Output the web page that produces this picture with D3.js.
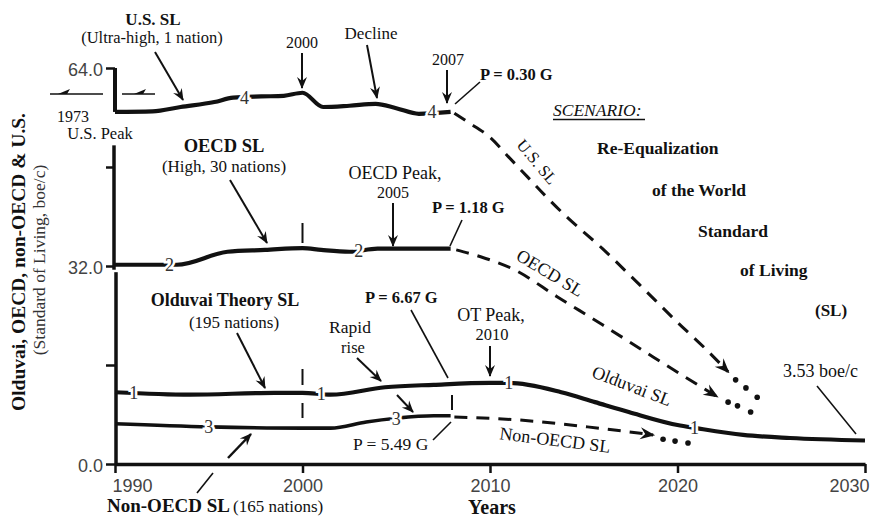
<!DOCTYPE html>
<html><head><meta charset="utf-8">
<script src="https://cdn.jsdelivr.net/npm/d3@7/dist/d3.min.js"></script>
<style>
html,body{margin:0;padding:0;background:#fff;}
svg{display:block;font-family:"Liberation Serif","Times New Roman",serif;}
</style></head><body>
<svg id="c" width="870" height="518"></svg>
<script>
// ---------- data (boe/c) ----------
const xTicks = [1990, 2000, 2010, 2020, 2030];
const yTicks = [0, 16, 32, 48, 64];
const yTickLabels = ["0.0", "", "32.0", "", "64.0"];

// U.S. SL (series 4)
const usDropYears = [1990, 1990];
const usDropValues = [64, 56.9];
const usYears = [1990, 1992, 1993.5, 1995.3, 1996.3, 1997.8, 1999, 2000, 2001.1, 2002.5, 2003.9, 2005, 2006.2, 2007.9];
const usValues = [56.9, 57.0, 57.7, 58.5, 59.2, 59.4, 59.5, 60.0, 57.7, 57.9, 58.2, 57.5, 56.6, 56.9];
const usDashYears = [2008.1, 2008.8, 2010, 2011, 2012, 2013, 2014, 2016, 2018, 2020, 2021.5, 2022.7];
const usDashValues = [56.7, 55.3, 52.8, 49.6, 46.4, 43.2, 40.2, 34.8, 28.9, 22.9, 18.6, 14.9];
const usDotYears = [2023.1, 2023.65, 2024.25];
const usDotValues = [13.6, 12.3, 10.8];

// OECD SL (series 2)
const oecdYears = [1990, 1993.3, 1996, 1998, 2000, 2001, 2002.5, 2004, 2007.9];
const oecdValues = [32.2, 32.2, 34.3, 34.6, 34.9, 34.6, 34.3, 34.8, 34.8];
const oecdDashYears = [2008.2, 2009.5, 2011.3, 2013.6, 2016, 2018.7, 2022.1];
const oecdDashValues = [34.6, 33.5, 31.4, 27.0, 22.5, 17.3, 10.9];
const oecdDotYears = [2022.7, 2023.2, 2023.9];
const oecdDotValues = [10.0, 9.4, 8.4];

// Olduvai Theory SL (series 1)
const olduvaiYears = [1990, 1994, 1998.5, 2000, 2001.5, 2004.4, 2007, 2010, 2011, 2013.8, 2015.6, 2017.4, 2020, 2021, 2023.5, 2026, 2030];
const olduvaiValues = [11.6, 11.2, 11.5, 11.5, 11.2, 12.4, 12.8, 13.1, 13.1, 11.6, 10.0, 8.4, 6.3, 5.8, 4.7, 4.2, 3.8];

// Non-OECD SL (series 3)
const nonOecdYears = [1990, 1995, 2000, 2001.5, 2003.4, 2005, 2007, 2007.9];
const nonOecdValues = [6.5, 6.0, 5.8, 5.8, 6.8, 7.4, 7.8, 7.8];
const nonOecdDashYears = [2008.1, 2011.6, 2015.2, 2018.7];
const nonOecdDashValues = [7.6, 7.1, 6.0, 4.7];
const nonOecdDotYears = [2019.23, 2019.87, 2020.56];
const nonOecdDotValues = [4.0, 3.7, 3.4];

// series number labels on the lines
const lineLabelText = ["4", "4", "2", "2", "1", "1", "1", "1", "3", "3"];
const lineLabelYears = [1996.9, 2006.9, 1992.9, 2003.0, 1991.0, 2001.0, 2011.0, 2020.9, 1995.0, 2005.0];
const lineLabelValues = [59.2, 56.9, 32.2, 34.5, 11.6, 11.4, 13.1, 5.9, 6.0, 7.4];

// ---------- scales ----------
const svg = d3.select("#c");
const x = d3.scaleLinear().domain([1990, 2030]).range([115, 865]);
const y = d3.scaleLinear().domain([0, 64]).range([464, 68]);
const ink = "#111";

const defs = svg.append("defs");
defs.append("marker").attr("id", "ah").attr("viewBox", "-14 -7 16 14")
  .attr("refX", 0).attr("refY", 0).attr("markerWidth", 16).attr("markerHeight", 14)
  .attr("markerUnits", "userSpaceOnUse").attr("orient", "auto")
  .append("path").attr("d", "M1,0 L-11,-5 L-7,0 L-11,5 Z").attr("fill", ink);
defs.append("marker").attr("id", "ahBig").attr("viewBox", "-16 -8 18 16")
  .attr("refX", 0).attr("refY", 0).attr("markerWidth", 18).attr("markerHeight", 16)
  .attr("markerUnits", "userSpaceOnUse").attr("orient", "auto")
  .append("path").attr("d", "M2,0 L-13,-6 L-8,0 L-13,6 Z").attr("fill", ink);

const zip = (a, b) => a.map((d, i) => [d, b[i]]);
const lineSmooth = d3.line().x(d => x(d[0])).y(d => y(d[1])).curve(d3.curveMonotoneX);
const lineStraight = d3.line().x(d => x(d[0])).y(d => y(d[1]));

// ---------- axes ----------
const xg = svg.append("g").attr("transform", `translate(0,${y(0)})`)
  .call(d3.axisBottom(x).tickValues(xTicks).tickSize(9).tickSizeOuter(0).tickPadding(6).tickFormat(d3.format("d")));
xg.select(".domain").attr("stroke", ink).attr("stroke-width", 3.5);
xg.selectAll(".tick line").attr("stroke", ink).attr("stroke-width", 2.5);
xg.selectAll(".tick text").attr("font-family", "Liberation Sans, Arial, sans-serif")
  .attr("font-size", 18).attr("fill", "#444")
  .attr("text-anchor", (d, i) => i === 0 ? "start" : (i === xTicks.length - 1 ? "end" : "middle"))
  .attr("dx", (d, i) => i === 0 ? -3 : (i === xTicks.length - 1 ? 4 : 0));

const yg = svg.append("g").attr("transform", `translate(${x(1990)},0)`)
  .call(d3.axisLeft(y).tickValues(yTicks).tickSize(9).tickPadding(3).tickFormat((d, i) => yTickLabels[i]));
yg.select(".domain").remove();
yg.selectAll(".tick line").attr("stroke", ink).attr("stroke-width", 2.5);
yg.selectAll(".tick text").attr("font-family", "Liberation Sans, Arial, sans-serif")
  .attr("font-size", 18).attr("fill", "#444").attr("dy", "0.42em");

// broken vertical axis
const axisSegments = [[0, 31.0, 1], [31.4, 51.5, -1]];
svg.selectAll(".vseg").data(axisSegments).enter().append("line")
  .attr("x1", d => x(1990) + d[2]).attr("x2", d => x(1990) + d[2])
  .attr("y1", d => y(d[0])).attr("y2", d => y(d[1]))
  .attr("stroke", ink).attr("stroke-width", 3.5);

// ---------- series ----------
function solid(data, w) {
  svg.append("path").attr("d", lineSmooth(data)).attr("fill", "none")
    .attr("stroke", ink).attr("stroke-width", w).attr("stroke-linejoin", "round");
}
function dashed(data) {
  svg.append("path").attr("d", lineSmooth(data)).attr("fill", "none")
    .attr("stroke", ink).attr("stroke-width", 3).attr("stroke-dasharray", "13,9")
    .attr("marker-end", "url(#ahBig)");
}
function dots(data) {
  svg.selectAll(null).data(data).enter().append("circle")
    .attr("cx", d => x(d[0])).attr("cy", d => y(d[1])).attr("r", 2.8).attr("fill", ink);
}

svg.append("path").attr("d", lineStraight(zip(usDropYears, usDropValues)))
  .attr("stroke", ink).attr("stroke-width", 4).attr("fill", "none");
solid(zip(usYears, usValues), 4.2);
dashed(zip(usDashYears, usDashValues));
dots(zip(usDotYears, usDotValues));

solid(zip(oecdYears, oecdValues), 4.2);
dashed(zip(oecdDashYears, oecdDashValues));
dots(zip(oecdDotYears, oecdDotValues));

solid(zip(olduvaiYears, olduvaiValues), 4.2);

solid(zip(nonOecdYears, nonOecdValues), 3.6);
dashed(zip(nonOecdDashYears, nonOecdDashValues));
dots(zip(nonOecdDotYears, nonOecdDotValues));

// series number labels (with white halo to break the lines)
svg.selectAll(".lnlab").data(lineLabelText).enter().append("text")
  .attr("x", (d, i) => x(lineLabelYears[i])).attr("y", (d, i) => y(lineLabelValues[i]))
  .attr("dy", "0.35em").attr("text-anchor", "middle").attr("font-size", 18)
  .attr("fill", "#333").attr("stroke", "#fff").attr("stroke-width", 5)
  .attr("paint-order", "stroke").text(d => d);

// ---------- annotations ----------
const ann = svg.append("g").attr("fill", ink);
function txt(s, px, py, o = {}) {
  const t = ann.append("text").attr("x", px).attr("y", py)
    .attr("text-anchor", o.a || "start").attr("font-size", o.s || 17)
    .attr("font-weight", o.w || "normal").attr("font-style", o.i ? "italic" : "normal").text(s);
  if (o.r !== undefined) t.attr("transform", `rotate(${o.r},${px},${py})`).attr("dominant-baseline", "central");
  return t;
}
function seg(x1, y1, x2, y2, head, w = 2) {
  const l = ann.append("line").attr("x1", x1).attr("y1", y1).attr("x2", x2).attr("y2", y2)
    .attr("stroke", ink).attr("stroke-width", w);
  if (head) l.attr("marker-end", "url(#ah)");
}

txt("U.S. SL", 153, 25, {a: "middle", s: 17, w: "bold"});
txt("(Ultra-high, 1 nation)", 152, 43, {a: "middle", s: 16.5});
seg(155, 52, 183, 100, true);
txt("1973", 73, 122, {a: "middle", s: 16});
txt("U.S. Peak", 100, 139, {a: "middle", s: 16.5});
seg(50, 94, 103, 94, false, 1.5);
seg(122, 94, 155, 94, false, 1.5);
ann.append("path").attr("d", "M58,94 L70,89 L67,94 Z");
ann.append("path").attr("d", "M134,94 L146,89 L143,94 Z");

txt("2000", 302, 48, {a: "middle", s: 16});
seg(302, 53, 302, 88, true);
txt("Decline", 371, 39, {a: "middle", s: 17});
seg(367, 45, 377, 98, true);
txt("2007", 448, 65, {a: "middle", s: 16});
seg(447, 70, 447, 103, true);
txt("P = 0.30 G", 480, 80, {s: 16.5, w: "bold"});
seg(480, 82, 455, 104, false, 1.6);

txt("SCENARIO:", 553, 116, {s: 17.5, i: true});
ann.append("line").attr("x1", 553).attr("x2", 645).attr("y1", 119.5).attr("y2", 119.5).attr("stroke", ink).attr("stroke-width", 1.3);
txt("Re-Equalization", 597, 154, {s: 17.5, w: "bold"});
txt("of the World", 652, 196, {s: 17.5, w: "bold"});
txt("Standard", 698, 237, {s: 17.5, w: "bold"});
txt("of Living", 740, 276, {s: 17.5, w: "bold"});
txt("(SL)", 815, 316, {s: 17, w: "bold"});

txt("U.S. SL", 537, 162, {a: "middle", s: 16.5, r: 50});
txt("OECD SL", 550, 273, {a: "middle", s: 18, r: 31});
txt("Olduvai SL", 632, 386, {a: "middle", s: 18, r: 21});
txt("Non-OECD SL", 555, 440, {a: "middle", s: 18, r: 7});

txt("OECD SL", 224, 152, {a: "middle", s: 18.5, w: "bold"});
txt("(High, 30 nations)", 224, 172, {a: "middle", s: 17});
seg(230, 180, 267, 243, true);
txt("OECD Peak,", 395, 179, {a: "middle", s: 18});
txt("2005", 393, 198, {a: "middle", s: 16});
seg(393, 203, 393, 246, true);
txt("P = 1.18 G", 432, 213, {s: 16.5, w: "bold"});
seg(462, 220, 450, 246, false, 1.6);
seg(x(2000), 223, x(2000), 243, false, 2);

txt("Olduvai Theory SL", 225, 306, {a: "middle", s: 18, w: "bold"});
txt("(195 nations)", 234, 328, {a: "middle", s: 17});
seg(237, 333, 265, 388, true);
txt("Rapid", 350, 333, {a: "middle", s: 17.5});
txt("rise", 353, 353, {a: "middle", s: 16.5});
seg(357, 358, 381, 381, true);
txt("P = 6.67 G", 365, 303, {s: 16.5, w: "bold"});
seg(411, 310, 448, 378, false, 1.6);
txt("OT Peak,", 491, 321, {a: "middle", s: 18});
txt("2010", 492, 340, {a: "middle", s: 16.5});
seg(490, 346, 490, 376, true);
txt("3.53 boe/c", 783, 377, {s: 18});
seg(817, 386, 856, 434, false, 1.6);

seg(x(2000), 369, x(2000), 385, false, 2);
seg(x(2000), 403, x(2000), 418, false, 2);
seg(452, 395, 452, 410, false, 2);

txt("P = 5.49 G", 353, 450, {s: 17.5});
seg(433, 440, 451, 422, false, 1.6);
seg(397, 395, 413, 412, true);
seg(228, 458, 251, 434, true, 2.5);
seg(197, 493, 213, 473, false, 1.6);

txt("Non-OECD SL", 107, 512, {s: 19, w: "bold"});
txt("(165 nations)", 233, 512, {s: 17});
txt("Years", 492, 514, {a: "middle", s: 20, w: "bold"});

svg.append("text").attr("transform", "translate(25,262) rotate(-90)")
  .attr("text-anchor", "middle").attr("font-size", 19.5).attr("font-weight", "bold")
  .attr("fill", ink).text("Olduvai, OECD, non-OECD & U.S.");
svg.append("text").attr("transform", "translate(45,260) rotate(-90)")
  .attr("text-anchor", "middle").attr("font-size", 17.5)
  .attr("fill", "#333").text("(Standard of Living, boe/c)");
</script>
</body></html>
